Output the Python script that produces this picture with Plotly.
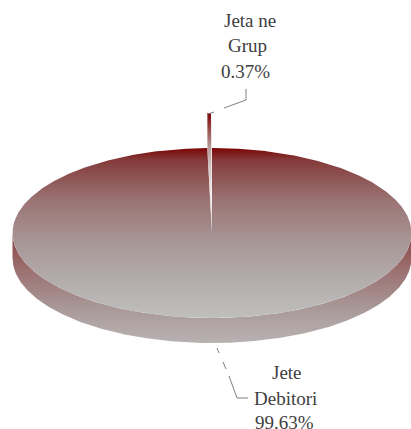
import numpy as np
import plotly.graph_objects as go

labels = [["Jete", "Debitori", "99.63%"], ["Jeta ne", "Grup", "0.37%"]]
values = [99.63, 0.37]

W, H = 411, 429
CX, CY, RX, RY = 212.0, 233.0, 199.5, 85.0
DEPTH = 25.0
EXPLODE = 35.0
TOP_STOPS = [[0, "#7c0404"], [0.07, "#843a3a"], [0.3, "#9a7272"], [0.55, "#a89696"], [0.8, "#b4aeae"], [1, "#bfbfbd"]]
SIDE_STOPS = [[0, "#8a4040"], [0.3, "#9a6c6c"], [0.7, "#aa9a9a"], [1, "#b8b2b2"]]
SLICE_STOPS = [[0, "#7c0404"], [0.29, "#b89c9c"], [0.475, "#d8c8c8"], [0.68, "#f0ecec"], [0.85, "#e0dcdc"], [1, "#a89e9e"]]
TEXT = "#404040"


def arc(a0, a1, dy=0.0, n=400):
    t = np.radians(np.linspace(a0, a1, n))
    return CX + RX * np.sin(t), CY + dy - RY * np.cos(t)


total = sum(values)
sweep = [v / total * 360 for v in values]

fig = go.Figure()


def poly(x, y, stops, y0, y1):
    fig.add_trace(go.Scatter(
        x=np.append(x, x[0]), y=np.append(y, y[0]), mode="lines", line=dict(width=0),
        fill="toself",
        fillgradient=dict(type="vertical", colorscale=stops, start=y0, stop=y1),
        hoverinfo="skip", showlegend=False))


# side wall (front half)
ax, ay = arc(90, 270)
bx, by = arc(270, 90, DEPTH)
poly(np.r_[ax, bx], np.r_[ay, by], SIDE_STOPS, CY, CY + RY + DEPTH)

# big slice top face, clockwise from 12 o'clock
tx, ty = arc(0, sweep[0], n=1500)
poly(np.r_[CX, tx], np.r_[CY, ty], TOP_STOPS, CY - RY, CY + RY)

# small slice, exploded upward: wall above the rim, then a thin wedge down to the apex
sx, sy = arc(sweep[0], 360, -EXPLODE, n=2)
rim_y = CY - RY
poly(np.array([sx[0], sx[0], CX, CX - 1, sx[1] - 1]),
     np.array([sy[0], rim_y + 2, CY, rim_y, sy[1]]),
     SLICE_STOPS, rim_y - EXPLODE, CY)

# leader lines
fig.add_trace(go.Scatter(
    x=[208, 214, None, 224, 246, 246, None, 217, 219, None, 223, 226, None, 229, 237, 248],
    y=[114, 112, None, 108, 100, 89, None, 348, 353, None, 362, 369, None, 376, 398, 398],
    mode="lines", line=dict(color="#808080", width=1), hoverinfo="skip", showlegend=False))

text_pos = [[(287, 372), (285, 398), (284, 422)], [(250, 20), (247, 45), (245, 71)]]
for group, pos in zip(labels, text_pos):
    for s, (x, y) in zip(group, pos):
        fig.add_annotation(x=x, y=y, text=s, showarrow=False, xanchor="center", yanchor="middle",
                           font=dict(family="Liberation Serif, Times New Roman, serif", size=19, color=TEXT))

fig.update_layout(
    width=W, height=H, margin=dict(l=0, r=0, t=0, b=0), paper_bgcolor="white", plot_bgcolor="white",
    xaxis=dict(range=[0, W], visible=False, fixedrange=True),
    yaxis=dict(range=[H, 0], visible=False, fixedrange=True),
    showlegend=False)
fig.write_html("out.html", config={"displayModeBar": False},
               post_script="document.body.style.margin='0';document.body.style.overflow='hidden';")
